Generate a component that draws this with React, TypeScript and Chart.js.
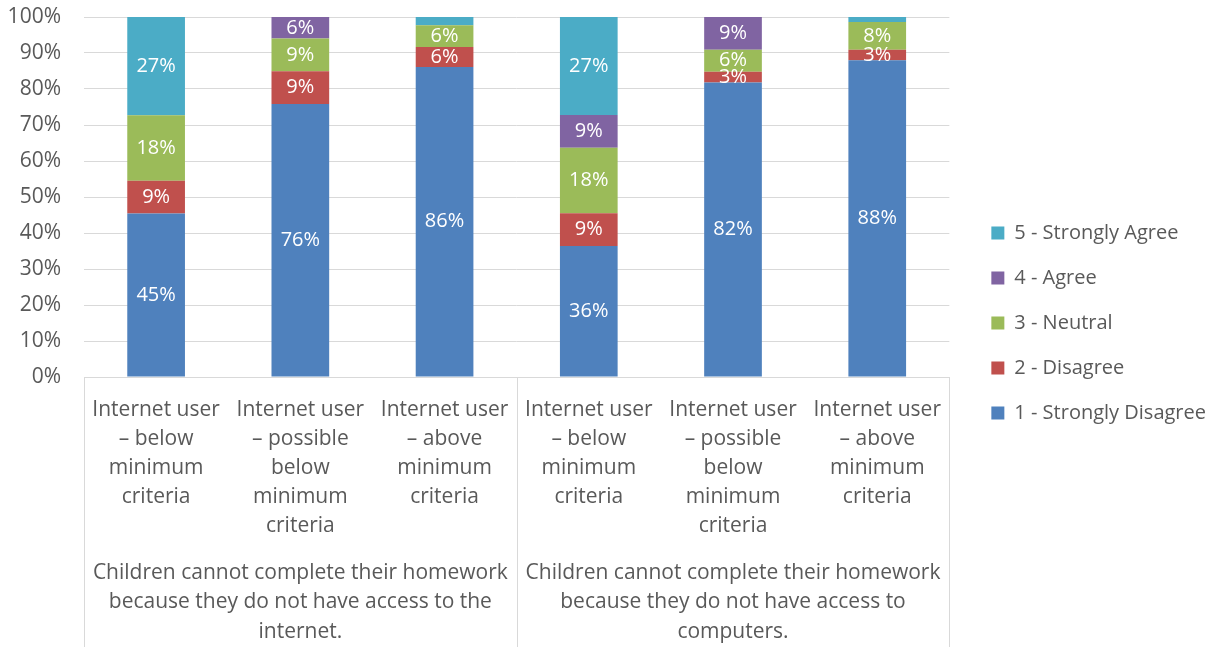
import React, { useEffect, useRef } from "react";
import { Chart, registerables } from "chart.js";

Chart.register(...registerables);

const categories: string[][] = [
  ["Internet user", "– below", "minimum", "criteria"],
  ["Internet user", "– possible", "below", "minimum", "criteria"],
  ["Internet user", "– above", "minimum", "criteria"],
  ["Internet user", "– below", "minimum", "criteria"],
  ["Internet user", "– possible", "below", "minimum", "criteria"],
  ["Internet user", "– above", "minimum", "criteria"],
];
const groupLabels: string[][] = [
  ["Children cannot complete their homework", "because they do not have access to the", "internet."],
  ["Children cannot complete their homework", "because they do not have access to", "computers."],
];
const groupSizes = [3, 3];

const seriesNames = ["1 - Strongly Disagree", "2 - Disagree", "3 - Neutral", "4 - Agree", "5 - Strongly Agree"];
const seriesColors = ["#4f81bd", "#c0504d", "#9bbb59", "#8064a2", "#4bacc6"];
const stronglyDisagree = [45.4, 75.8, 86.1, 36.4, 81.8, 88.0];
const disagree = [9.1, 9.1, 5.6, 9.1, 3.0, 2.9];
const neutral = [18.2, 9.1, 6.0, 18.2, 6.1, 7.7];
const agree = [0, 6.0, 0, 9.1, 9.1, 0];
const stronglyAgree = [27.3, 0, 2.3, 27.2, 0, 1.4];
const seriesValues = [stronglyDisagree, disagree, neutral, agree, stronglyAgree];

const yMax = 100;
const yStep = 10;

const FONT = "'Open Sans', sans-serif";
const TEXT = "#595959";
const GRID = "#d9d9d9";

const labelPlugin = {
  id: "segLabels",
  afterDatasetsDraw(chart: any) {
    const ctx = chart.ctx;
    ctx.save();
    ctx.font = `20px ${FONT}`;
    ctx.fillStyle = "#ffffff";
    ctx.textAlign = "center";
    ctx.textBaseline = "middle";
    chart.data.datasets.forEach((ds: any, i: number) => {
      const meta = chart.getDatasetMeta(i);
      meta.data.forEach((bar: any, j: number) => {
        const v = ds.data[j];
        if (!v || v < 2.5) return;
        const p = bar.getProps(["x", "y", "base"], true);
        ctx.fillText(Math.round(v) + "%", p.x, (p.y + p.base) / 2);
      });
    });
    ctx.restore();
  },
};

const groupPlugin = {
  id: "groupAxis",
  afterLayout(chart: any) {
    const lg = chart.legend;
    if (lg) {
      lg.left += 17;
      lg.right += 17;
      lg.top -= 9;
      lg.bottom -= 9;
    }
  },
  afterDraw(chart: any) {
    const ctx = chart.ctx;
    const area = chart.chartArea;
    const xs = chart.scales.x;
    ctx.save();
    ctx.strokeStyle = GRID;
    ctx.lineWidth = 1;
    const seps: number[] = [area.left];
    let idx = 0;
    groupSizes.forEach((n, g) => {
      idx += n;
      if (g < groupSizes.length - 1) {
        seps.push((xs.getPixelForValue(idx - 1) + xs.getPixelForValue(idx)) / 2);
      }
    });
    seps.push(area.right);
    seps.forEach((x) => {
      const px = Math.round(x) + 0.5;
      ctx.beginPath();
      ctx.moveTo(px, area.bottom);
      ctx.lineTo(px, chart.height);
      ctx.stroke();
    });
    ctx.font = `21px ${FONT}`;
    ctx.fillStyle = TEXT;
    ctx.textAlign = "center";
    ctx.textBaseline = "middle";
    groupLabels.forEach((lines, g) => {
      const cx = (seps[g] + seps[g + 1]) / 2;
      lines.forEach((ln, k) => {
        ctx.fillText(ln, cx, area.bottom + 196 + k * 29.5);
      });
    });
    ctx.restore();
  },
};

export default function App() {
  const ref = useRef<HTMLCanvasElement>(null);
  useEffect(() => {
    document.body.style.margin = "0";
    const chart = new Chart(ref.current!, {
      type: "bar",
      data: {
        labels: categories,
        datasets: seriesNames.map((name, i) => ({
          label: name,
          data: seriesValues[i],
          backgroundColor: seriesColors[i],
          borderWidth: 0,
          categoryPercentage: 1,
          barPercentage: 0.4,
        })),
      },
      options: {
        animation: false,
        responsive: false,
        maintainAspectRatio: false,
        layout: { padding: { top: 17, right: 21, left: 0, bottom: 0 } },
        plugins: {
          legend: {
            position: "right",
            reverse: true,
            labels: {
              boxWidth: 13,
              boxHeight: 13,
              padding: 25,
              color: TEXT,
              font: { family: FONT, size: 20 },
            },
          },
          tooltip: { enabled: false },
        },
        scales: {
          x: {
            stacked: true,
            grid: { display: false, drawTicks: false },
            border: { display: true, color: GRID, width: 1 },
            ticks: {
              color: TEXT,
              font: { family: FONT, size: 21, lineHeight: 1.38 },
              padding: 19,
              maxRotation: 0,
              autoSkip: false,
            },
            afterFit: (s: any) => {
              s.height = 270;
            },
          },
          y: {
            stacked: true,
            min: 0,
            max: yMax,
            grid: { color: GRID, drawTicks: false, lineWidth: 1 },
            border: { display: false },
            ticks: {
              stepSize: yStep,
              color: TEXT,
              font: { family: FONT, size: 21 },
              padding: 23,
              callback: (v: any) => v + "%",
            },
            afterFit: (s: any) => {
              s.width = 84;
              s.paddingTop = 0;
              s.paddingBottom = 0;
            },
          },
        },
      },
      plugins: [labelPlugin, groupPlugin],
    });
    return () => chart.destroy();
  }, []);
  return <canvas ref={ref} width={1220} height={647} style={{ display: "block" }} />;
}
